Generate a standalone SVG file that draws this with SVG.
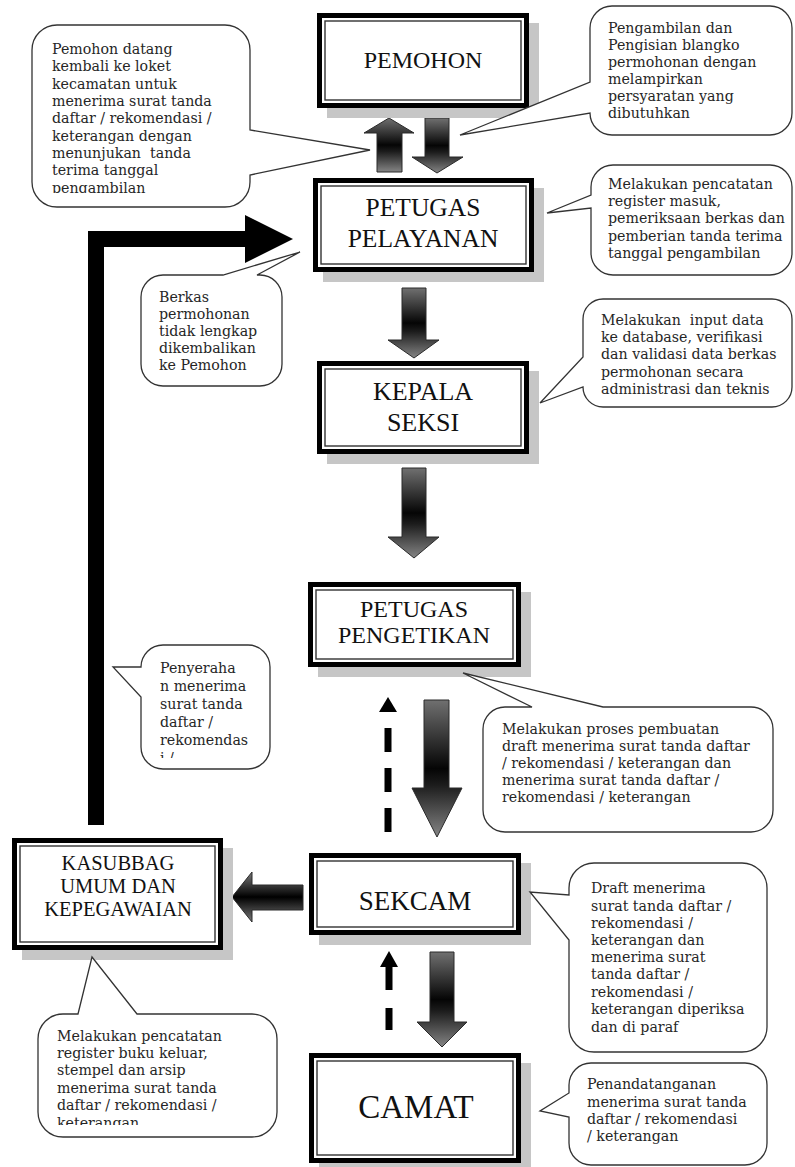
<svg xmlns="http://www.w3.org/2000/svg" width="795" height="1167" viewBox="0 0 795 1167">
<defs>
<linearGradient id="gv" x1="0" y1="0" x2="0" y2="1">
<stop offset="0" stop-color="#707070"/>
<stop offset="0.5" stop-color="#050505"/>
<stop offset="0.62" stop-color="#1c1c1c"/>
<stop offset="1" stop-color="#858585"/>
</linearGradient>
<linearGradient id="gh" x1="0" y1="0" x2="0" y2="1">
<stop offset="0" stop-color="#7a7a7a"/>
<stop offset="0.5" stop-color="#000"/>
<stop offset="1" stop-color="#7a7a7a"/>
</linearGradient>
<clipPath id="clip1"><rect x="30" y="20" width="230" height="173"/></clipPath>
<clipPath id="clip6"><rect x="140" y="640" width="135" height="118"/></clipPath>
<clipPath id="clip8"><rect x="36" y="1010" width="245" height="115"/></clipPath>
</defs>
<style>
.shadow{fill:#c6c6c6}
.outer{fill:#fff;stroke:#000;stroke-width:5}
.inner{fill:none;stroke:#333;stroke-width:1.4}
.lbl{font-family:"Liberation Serif","Times New Roman",serif;fill:#111;text-anchor:middle}
.callout{fill:#fff;stroke:#333;stroke-width:1.3}
.ct{font-family:"DejaVu Serif","Liberation Serif",serif;font-size:14.2px;fill:#262626}
.blk{fill:url(#gv);stroke:#2a2a2a;stroke-width:1}
.blkh{fill:url(#gh);stroke:#2a2a2a;stroke-width:1}
.dash{stroke:#000;stroke-width:7;fill:none}
</style>
<rect width="795" height="1167" fill="#fff"/>

<g id="connectors">
<path d="M88,825 L88,231 L245,231 L245,215 L293,239 L245,263 L245,247 L104,247 L104,825 Z" fill="#000"/>
<path class="blk" d="M389,118 L414,133 L402,133 L402,172 L377,172 L377,133 L364,133 Z"/>
<path class="blk" d="M425,118 H449 V157 H463 L437,173 L412,157 H425 Z"/>
<path class="blk" d="M402,288 H426 V340 H439 L414,358 L388,340 H402 Z"/>
<path class="blk" d="M402,468 H426 V537 H439 L414,558 L388,537 H402 Z"/>
<path class="blk" d="M424,700 H449 V788 H462 L437,837 L412,788 H424 Z"/>
<path class="blk" d="M430,952 H454 V1022 H467 L442,1047 L417,1022 H430 Z"/>
<path class="blkh" d="M232,897 L252,872 L252,885 L303,885 L303,910 L252,910 L252,922 Z"/>
<polygon points="388,697 397,712 379,712" fill="#000"/>
<line class="dash" x1="388" y1="728" x2="388" y2="832" stroke-dasharray="24 16"/>
<polygon points="389,951 398,967 380,967" fill="#000"/>
<line class="dash" x1="389" y1="966" x2="389" y2="1030" stroke-dasharray="24 18"/>
</g>

<g id="pemohon">
<rect class="shadow" x="327" y="23" width="212" height="95"/>
<rect class="outer" x="319.5" y="15.5" width="207" height="90"/>
<rect class="inner" x="325" y="21" width="196" height="79"/>
<text class="lbl" x="423" y="68" font-size="24">PEMOHON</text>
</g>

<g id="petugas-pelayanan">
<rect class="shadow" x="323" y="188" width="221" height="94"/>
<rect class="outer" x="315.5" y="180.5" width="216" height="89"/>
<rect class="inner" x="321" y="186" width="205" height="78"/>
<text class="lbl" x="423" y="216" font-size="25.5">PETUGAS</text>
<text class="lbl" x="423" y="247" font-size="25.5">PELAYANAN</text>
</g>

<g id="kepala-seksi">
<rect class="shadow" x="327" y="371" width="212" height="93"/>
<rect class="outer" x="319.5" y="363.5" width="207" height="88"/>
<rect class="inner" x="325" y="369" width="196" height="77"/>
<text class="lbl" x="423" y="400" font-size="26">KEPALA</text>
<text class="lbl" x="423" y="431" font-size="26">SEKSI</text>
</g>

<g id="petugas-pengetikan">
<rect class="shadow" x="318" y="592" width="213" height="85"/>
<rect class="outer" x="310.5" y="584.5" width="208" height="80"/>
<rect class="inner" x="316" y="590" width="197" height="69"/>
<text class="lbl" x="414" y="617" font-size="24">PETUGAS</text>
<text class="lbl" x="414" y="643" font-size="24">PENGETIKAN</text>
</g>

<g id="sekcam">
<rect class="shadow" x="319" y="863" width="212" height="82"/>
<rect class="outer" x="311.5" y="855.5" width="207" height="77"/>
<rect class="inner" x="317" y="861" width="196" height="66"/>
<text class="lbl" x="415" y="910" font-size="27">SEKCAM</text>
</g>

<g id="camat">
<rect class="shadow" x="319" y="1063" width="212" height="110"/>
<rect class="outer" x="311.5" y="1055.5" width="207" height="105"/>
<rect class="inner" x="317" y="1061" width="196" height="94"/>
<text class="lbl" x="416" y="1118" font-size="33">CAMAT</text>
</g>

<g id="kasubbag">
<rect class="shadow" x="22" y="848" width="211" height="112"/>
<rect class="outer" x="14.5" y="840.5" width="206" height="107"/>
<rect class="inner" x="20" y="846" width="195" height="96"/>
<text class="lbl" x="118" y="870" font-size="20.5">KASUBBAG</text>
<text class="lbl" x="118" y="893" font-size="20.5">UMUM DAN</text>
<text class="lbl" x="118" y="916" font-size="20.5">KEPEGAWAIAN</text>
</g>

<g id="callout-pemohon-kembali">
<path class="callout" d="M57,25 H225 A25,25 0 0 1 250,50 V130 L370,150 L250,175 V182 A25,25 0 0 1 225,207 H57 A25,25 0 0 1 32,182 V50 A25,25 0 0 1 57,25 Z"/>
<g clip-path="url(#clip1)">
<text class="ct" x="52" y="54">Pemohon datang</text>
<text class="ct" x="52" y="71">kembali ke loket</text>
<text class="ct" x="52" y="89">kecamatan untuk</text>
<text class="ct" x="52" y="106">menerima surat tanda</text>
<text class="ct" x="52" y="123">daftar / rekomendasi /</text>
<text class="ct" x="52" y="141">keterangan dengan</text>
<text class="ct" x="52" y="158" xml:space="preserve">menunjukan  tanda</text>
<text class="ct" x="52" y="175">terima tanggal</text>
<text class="ct" x="52" y="193">pengambilan</text>
</g>
</g>

<g id="callout-pengambilan">
<path class="callout" d="M612,6 H770 A22,22 0 0 1 792,28 V113 A22,22 0 0 1 770,135 H612 A22,22 0 0 1 590,113 L460,135 L590,82 V28 A22,22 0 0 1 612,6 Z"/>
<text class="ct" x="608" y="33">Pengambilan dan</text>
<text class="ct" x="608" y="50">Pengisian blangko</text>
<text class="ct" x="608" y="67">permohonan dengan</text>
<text class="ct" x="608" y="84">melampirkan</text>
<text class="ct" x="608" y="101">persyaratan yang</text>
<text class="ct" x="608" y="118">dibutuhkan</text>
</g>

<g id="callout-pencatatan-masuk">
<path class="callout" d="M613,165 H770 A22,22 0 0 1 792,187 V253 A22,22 0 0 1 770,275 H613 A22,22 0 0 1 591,253 V208 L547,213 L591,195 V187 A22,22 0 0 1 613,165 Z"/>
<text class="ct" x="608" y="189">Melakukan pencatatan</text>
<text class="ct" x="608" y="206">register masuk,</text>
<text class="ct" x="608" y="223">pemeriksaan berkas dan</text>
<text class="ct" x="608" y="241">pemberian tanda terima</text>
<text class="ct" x="608" y="258">tanggal pengambilan</text>
</g>

<g id="callout-berkas">
<path class="callout" d="M163,275 H223 L300,252 L257,275 H260 A22,22 0 0 1 282,297 V364 A22,22 0 0 1 260,386 H163 A22,22 0 0 1 141,364 V297 A22,22 0 0 1 163,275 Z"/>
<text class="ct" x="159" y="302">Berkas</text>
<text class="ct" x="159" y="319">permohonan</text>
<text class="ct" x="159" y="336">tidak lengkap</text>
<text class="ct" x="159" y="353">dikembalikan</text>
<text class="ct" x="159" y="370">ke Pemohon</text>
</g>

<g id="callout-input-data">
<path class="callout" d="M603,299 H772 A20,20 0 0 1 792,319 V387 A20,20 0 0 1 772,407 H603 A20,20 0 0 1 583,387 L540,403 L583,357 V319 A20,20 0 0 1 603,299 Z"/>
<text class="ct" x="601" y="325" xml:space="preserve">Melakukan  input data</text>
<text class="ct" x="601" y="342">ke database, verifikasi</text>
<text class="ct" x="601" y="359">dan validasi data berkas</text>
<text class="ct" x="601" y="377">permohonan secara</text>
<text class="ct" x="601" y="394">administrasi dan teknis</text>
</g>

<g id="callout-penyerahan">
<path class="callout" d="M163,645 H248 A22,22 0 0 1 270,667 V747 A22,22 0 0 1 248,769 H163 A22,22 0 0 1 141,747 V697 L113,667 L141,667 A22,22 0 0 1 163,645 Z"/>
<g clip-path="url(#clip6)">
<text class="ct" x="160" y="673" font-size="15.5">Penyeraha</text>
<text class="ct" x="160" y="691" font-size="15.5">n menerima</text>
<text class="ct" x="160" y="709" font-size="15.5">surat tanda</text>
<text class="ct" x="160" y="727" font-size="15.5">daftar /</text>
<text class="ct" x="160" y="745" font-size="15.5">rekomendas</text>
<text class="ct" x="160" y="763" font-size="15.5">i /</text>
</g>
</g>

<g id="callout-pembuatan-draft">
<path class="callout" d="M505,707 H532 L463,673 L603,707 H751 A22,22 0 0 1 773,729 V810 A22,22 0 0 1 751,832 H505 A22,22 0 0 1 483,810 V729 A22,22 0 0 1 505,707 Z"/>
<text class="ct" x="502" y="734">Melakukan proses pembuatan</text>
<text class="ct" x="502" y="751">draft menerima surat tanda daftar</text>
<text class="ct" x="502" y="768">/ rekomendasi / keterangan dan</text>
<text class="ct" x="502" y="785">menerima surat tanda daftar /</text>
<text class="ct" x="502" y="802">rekomendasi / keterangan</text>
</g>

<g id="callout-register-keluar">
<path class="callout" d="M63,1014 H78 L92,957 L137,1014 H252 A25,25 0 0 1 277,1039 V1112 A25,25 0 0 1 252,1137 H63 A25,25 0 0 1 38,1112 V1039 A25,25 0 0 1 63,1014 Z"/>
<g clip-path="url(#clip8)">
<text class="ct" x="57" y="1041">Melakukan pencatatan</text>
<text class="ct" x="57" y="1058">register buku keluar,</text>
<text class="ct" x="57" y="1075">stempel dan arsip</text>
<text class="ct" x="57" y="1093">menerima surat tanda</text>
<text class="ct" x="57" y="1110">daftar / rekomendasi /</text>
<text class="ct" x="57" y="1128">keterangan</text>
</g>
</g>

<g id="callout-draft-diperiksa">
<path class="callout" d="M594,863 H742 A25,25 0 0 1 767,888 V1027 A25,25 0 0 1 742,1052 H594 A25,25 0 0 1 569,1027 V940 L530,892 L569,895 V888 A25,25 0 0 1 594,863 Z"/>
<text class="ct" x="591" y="893">Draft menerima</text>
<text class="ct" x="591" y="911">surat tanda daftar /</text>
<text class="ct" x="591" y="928">rekomendasi /</text>
<text class="ct" x="591" y="945">keterangan dan</text>
<text class="ct" x="591" y="962">menerima surat</text>
<text class="ct" x="591" y="979">tanda daftar /</text>
<text class="ct" x="591" y="997">rekomendasi /</text>
<text class="ct" x="591" y="1014">keterangan diperiksa</text>
<text class="ct" x="591" y="1032">dan di paraf</text>
</g>

<g id="callout-penandatanganan">
<path class="callout" d="M591,1063 H745 A22,22 0 0 1 767,1085 V1143 A22,22 0 0 1 745,1165 H591 A22,22 0 0 1 569,1143 V1117 L540,1111 L569,1093 V1085 A22,22 0 0 1 591,1063 Z"/>
<text class="ct" x="587" y="1089">Penandatanganan</text>
<text class="ct" x="587" y="1107">menerima surat tanda</text>
<text class="ct" x="587" y="1124">daftar / rekomendasi</text>
<text class="ct" x="587" y="1141">/ keterangan</text>
</g>
</svg>
